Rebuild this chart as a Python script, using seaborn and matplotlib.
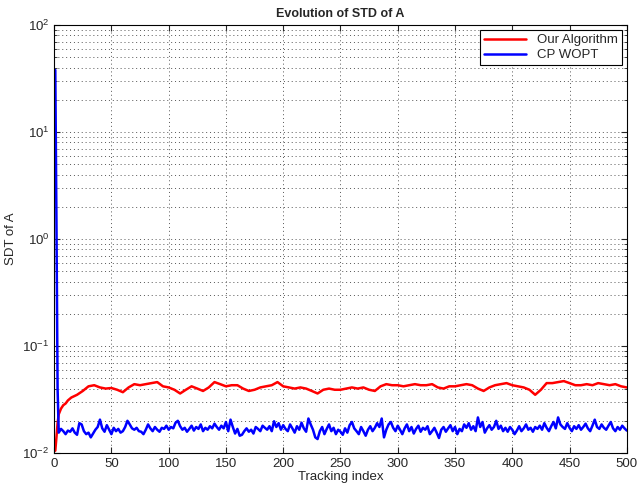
import numpy as np
import pandas as pd
import matplotlib
matplotlib.use("Agg")
import matplotlib.pyplot as plt
import seaborn as sns

# values (tracking index -> STD)
red_head_x = [1, 2, 3, 4, 6, 8, 10, 12, 15]
red_head_y = [0.0105, 0.014, 0.019, 0.023, 0.026, 0.028, 0.029, 0.031, 0.033]
red_x = list(range(20, 501, 5))
red_y = [
    0.035, 0.038, 0.042, 0.043, 0.041, 0.040, 0.0405, 0.039, 0.037, 0.041,
    0.044, 0.043, 0.044, 0.045, 0.046, 0.042, 0.041, 0.039, 0.036, 0.039,
    0.042, 0.040, 0.038, 0.041, 0.046, 0.044, 0.042, 0.043, 0.043, 0.040,
    0.038, 0.039, 0.041, 0.042, 0.043, 0.046, 0.042, 0.041, 0.040, 0.041,
    0.040, 0.038, 0.036, 0.039, 0.040, 0.039, 0.039, 0.040, 0.041, 0.040,
    0.041, 0.039, 0.038, 0.042, 0.044, 0.043, 0.043, 0.042, 0.043, 0.044,
    0.043, 0.043, 0.044, 0.041, 0.040, 0.042, 0.042, 0.043, 0.044, 0.043,
    0.040, 0.038, 0.041, 0.043, 0.044, 0.045, 0.043, 0.042, 0.041, 0.039,
    0.035, 0.039, 0.045, 0.045, 0.046, 0.047, 0.045, 0.043, 0.043, 0.044,
    0.043, 0.045, 0.044, 0.043, 0.044, 0.042, 0.041,
]

blue_head_x = [1, 2, 3]
blue_head_y = [38.0, 1.5, 0.04]
blue_x = list(range(4, 501, 2))
blue_y = [
    0.0155, 0.0168, 0.0160, 0.0150, 0.0162, 0.0158, 0.0170, 0.0155, 0.0148, 0.0190,
    0.0185, 0.0160, 0.0150, 0.0155, 0.0140, 0.0152, 0.0165, 0.0175, 0.0205, 0.0170,
    0.0158, 0.0182, 0.0165, 0.0150, 0.0172, 0.0160, 0.0168, 0.0155, 0.0160, 0.0175,
    0.0200, 0.0185, 0.0170, 0.0165, 0.0172, 0.0160, 0.0158, 0.0150, 0.0165, 0.0185,
    0.0170, 0.0160, 0.0175, 0.0165, 0.0158, 0.0172, 0.0168, 0.0180, 0.0165, 0.0175,
    0.0170, 0.0192, 0.0200, 0.0178, 0.0165, 0.0172, 0.0158, 0.0168, 0.0180, 0.0162,
    0.0175, 0.0168, 0.0185, 0.0160, 0.0172, 0.0165, 0.0178, 0.0170, 0.0188, 0.0175,
    0.0165, 0.0180, 0.0170, 0.0195, 0.0160, 0.0205, 0.0175, 0.0152, 0.0168, 0.0145,
    0.0148, 0.0160, 0.0170, 0.0158, 0.0165, 0.0152, 0.0175, 0.0168, 0.0160, 0.0180,
    0.0172, 0.0165, 0.0178, 0.0160, 0.0198, 0.0175, 0.0190, 0.0165, 0.0182, 0.0168,
    0.0160, 0.0185, 0.0170, 0.0155, 0.0178, 0.0165, 0.0192, 0.0170, 0.0158, 0.0210,
    0.0185, 0.0165, 0.0140, 0.0135, 0.0160, 0.0175, 0.0150, 0.0168, 0.0185, 0.0160,
    0.0172, 0.0150, 0.0165, 0.0158, 0.0148, 0.0170, 0.0155, 0.0182, 0.0195, 0.0170,
    0.0160, 0.0150, 0.0175, 0.0160, 0.0145, 0.0165, 0.0178, 0.0160, 0.0172, 0.0190,
    0.0175, 0.0210, 0.0140, 0.0165, 0.0185, 0.0195, 0.0172, 0.0160, 0.0180, 0.0165,
    0.0150, 0.0170, 0.0185, 0.0160, 0.0175, 0.0152, 0.0168, 0.0180, 0.0158, 0.0172,
    0.0165, 0.0178, 0.0150, 0.0160, 0.0172, 0.0155, 0.0138, 0.0165, 0.0175, 0.0158,
    0.0170, 0.0182, 0.0160, 0.0175, 0.0150, 0.0168, 0.0160, 0.0185, 0.0172, 0.0190,
    0.0165, 0.0178, 0.0160, 0.0215, 0.0175, 0.0195, 0.0155, 0.0170, 0.0182, 0.0165,
    0.0175, 0.0200, 0.0168, 0.0180, 0.0160, 0.0172, 0.0158, 0.0175, 0.0165, 0.0150,
    0.0162, 0.0178, 0.0160, 0.0170, 0.0185, 0.0165, 0.0172, 0.0158, 0.0175, 0.0168,
    0.0180, 0.0165, 0.0190, 0.0172, 0.0160, 0.0178, 0.0195, 0.0170, 0.0215, 0.0185,
    0.0175, 0.0168, 0.0190, 0.0172, 0.0160, 0.0178, 0.0168, 0.0182, 0.0165, 0.0175,
    0.0188, 0.0170, 0.0160, 0.0180, 0.0205, 0.0175, 0.0168, 0.0185, 0.0172, 0.0165,
    0.0180, 0.0195, 0.0170, 0.0160, 0.0175, 0.0165, 0.0180, 0.0170, 0.0162,
]

df = pd.concat([
    pd.DataFrame({"idx": red_head_x + red_x, "std": red_head_y + red_y, "method": "Our Algorithm"}),
    pd.DataFrame({"idx": blue_head_x + blue_x, "std": blue_head_y + blue_y, "method": "CP WOPT"}),
])

sns.set_style("ticks")
plt.rcParams["font.family"] = ["Liberation Sans", "DejaVu Sans"]
plt.rcParams["mathtext.fontset"] = "custom"
plt.rcParams["mathtext.rm"] = "Liberation Sans"

fig = plt.figure(figsize=(6.37, 4.9), dpi=100)
ax = fig.add_axes([0.085, 0.0755, 0.899, 0.8735])

sns.lineplot(data=df, x="idx", y="std", hue="method",
             palette={"Our Algorithm": "#ff0000", "CP WOPT": "#0000ff"},
             linewidth=1.8, ax=ax, sort=False, estimator=None)

ax.set_yscale("log")
ax.set_xlim(0, 500)
ax.set_ylim(1e-2, 1e2)
ax.set_xticks(range(0, 501, 50))

grid_kw = dict(linestyle=(0, (1, 3)), color="#555555", linewidth=0.7)
ax.grid(True, which="major", axis="both", **grid_kw)
ax.grid(True, which="minor", axis="y", **grid_kw)
ax.tick_params(which="both", direction="in", top=True, right=True, labelsize=9.5)
ax.tick_params(which="major", length=4)
ax.tick_params(which="minor", length=2)
for s in ax.spines.values():
    s.set_linewidth(0.8)
    s.set_color("black")

ax.set_title("Evolution of STD of A", fontsize=9, fontweight="bold", pad=6)
ax.set_xlabel("Tracking index", fontsize=9.5, labelpad=1)
ax.set_ylabel("SDT of A", fontsize=9.5, labelpad=4)

leg = ax.legend(loc="upper right", fontsize=9.5, frameon=True, fancybox=False,
                edgecolor="black", framealpha=1, borderaxespad=0.4,
                handlelength=3.2, borderpad=0.3, labelspacing=0.2)
leg.get_frame().set_linewidth(0.8)

fig.savefig("out.png", dpi=100)
